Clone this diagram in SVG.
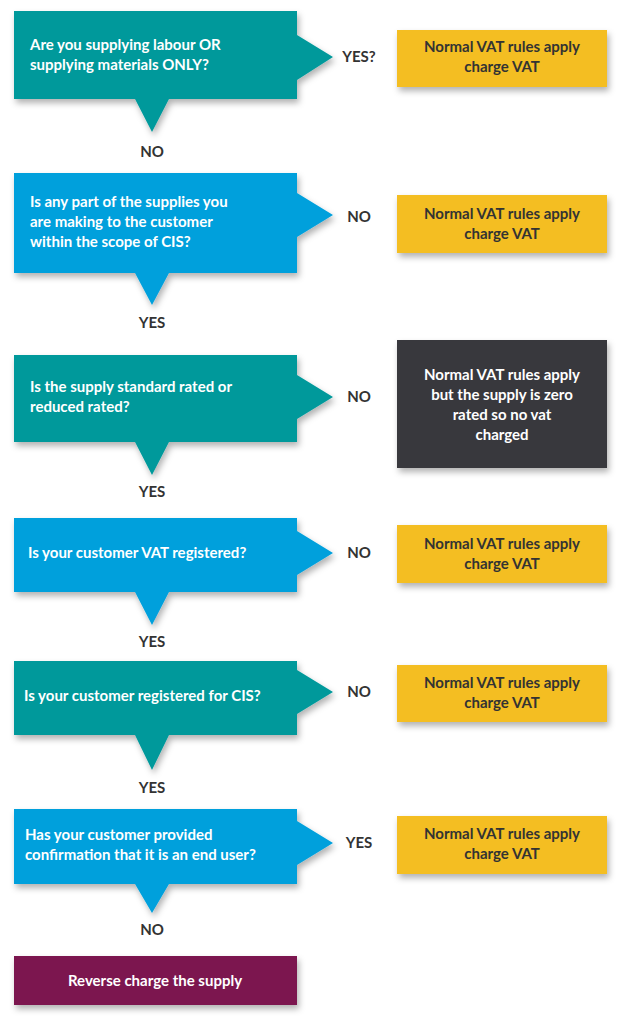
<svg xmlns="http://www.w3.org/2000/svg" width="623" height="1024" viewBox="0 0 623 1024">
<defs>
<filter id="sh" x="-10%" y="-10%" width="130%" height="140%"><feDropShadow dx="2" dy="4" stdDeviation="3" flood-color="#000" flood-opacity="0.3"/></filter>
</defs>
<style>
.teal{fill:#00999B}.blue{fill:#00A0DC}.yel{fill:#F4BE23}.dark{fill:#38393D}.pur{fill:#7B1450}
text{font-family:"Lato","Liberation Sans",sans-serif;font-weight:bold;font-size:15px}
.w{fill:#fff}.k{fill:#333}.c{text-anchor:middle}
</style>
<rect width="623" height="1024" fill="#fff"/>
<g id="q1"><path class="teal" filter="url(#sh)" d="M14,11H297V35L333,57L297,80V99H169L152,132L135,99H14Z"/>
<text class="w" x="30" y="50">Are you supplying labour OR</text><text class="w" x="30" y="70">supplying materials ONLY?</text></g>
<g id="q2"><path class="blue" filter="url(#sh)" d="M14,173H297V193L333,215L297,237V273H169L152,305L135,273H14Z"/>
<text class="w" x="30" y="207">Is any part of the supplies you</text><text class="w" x="30" y="227">are making to the customer</text><text class="w" x="30" y="247">within the scope of CIS?</text></g>
<g id="q3"><path class="teal" filter="url(#sh)" d="M14,355H297V375L333,397L297,419V442H169L152,475L135,442H14Z"/>
<text class="w" x="30" y="392">Is the supply standard rated or</text><text class="w" x="30" y="412">reduced rated?</text></g>
<g id="q4"><path class="blue" filter="url(#sh)" d="M14,518H297V531L333,553L297,575V592H169L152,625L135,592H14Z"/>
<text class="w" x="28" y="558">Is your customer VAT registered?</text></g>
<g id="q5"><path class="teal" filter="url(#sh)" d="M14,661H297V670L333,692L297,714V735H169L152,770L135,735H14Z"/>
<text class="w" x="24" y="701">Is your customer registered for CIS?</text></g>
<g id="q6"><path class="blue" filter="url(#sh)" d="M14,809H297V821L333,843L297,865V884H169L152,913L135,884H14Z"/>
<text class="w" x="25" y="840">Has your customer provided</text><text class="w" x="25" y="860">confirmation that it is an end user?</text></g>
<g id="end"><rect class="pur" filter="url(#sh)" x="14" y="956" width="283" height="49"/><text class="w c" x="155" y="986">Reverse charge the supply</text></g>
<g id="r1"><rect class="yel" filter="url(#sh)" x="397" y="30" width="210" height="57"/><text class="k c" x="502" y="52">Normal VAT rules apply</text><text class="k c" x="502" y="72">charge VAT</text></g>
<g id="r2"><rect class="yel" filter="url(#sh)" x="397" y="195" width="210" height="58"/><text class="k c" x="502" y="219">Normal VAT rules apply</text><text class="k c" x="502" y="239">charge VAT</text></g>
<g id="r3"><rect class="dark" filter="url(#sh)" x="397" y="340" width="210" height="128"/><text class="w c" x="502" y="380">Normal VAT rules apply</text><text class="w c" x="502" y="400">but the supply is zero</text><text class="w c" x="502" y="420">rated so no vat</text><text class="w c" x="502" y="440">charged</text></g>
<g id="r4"><rect class="yel" filter="url(#sh)" x="397" y="525" width="210" height="58"/><text class="k c" x="502" y="549">Normal VAT rules apply</text><text class="k c" x="502" y="569">charge VAT</text></g>
<g id="r5"><rect class="yel" filter="url(#sh)" x="397" y="665" width="210" height="57"/><text class="k c" x="502" y="688">Normal VAT rules apply</text><text class="k c" x="502" y="708">charge VAT</text></g>
<g id="r6"><rect class="yel" filter="url(#sh)" x="397" y="816" width="210" height="58"/><text class="k c" x="502" y="839">Normal VAT rules apply</text><text class="k c" x="502" y="859">charge VAT</text></g>
<g id="connectors" class="k">
<text class="k c" x="359" y="62">YES?</text><text class="k c" x="152" y="157">NO</text>
<text class="k c" x="359" y="222">NO</text><text class="k c" x="152" y="328">YES</text>
<text class="k c" x="359" y="402">NO</text><text class="k c" x="152" y="497">YES</text>
<text class="k c" x="359" y="558">NO</text><text class="k c" x="152" y="647">YES</text>
<text class="k c" x="359" y="697">NO</text><text class="k c" x="152" y="793">YES</text>
<text class="k c" x="359" y="848">YES</text><text class="k c" x="152" y="935">NO</text>
</g>
</svg>
